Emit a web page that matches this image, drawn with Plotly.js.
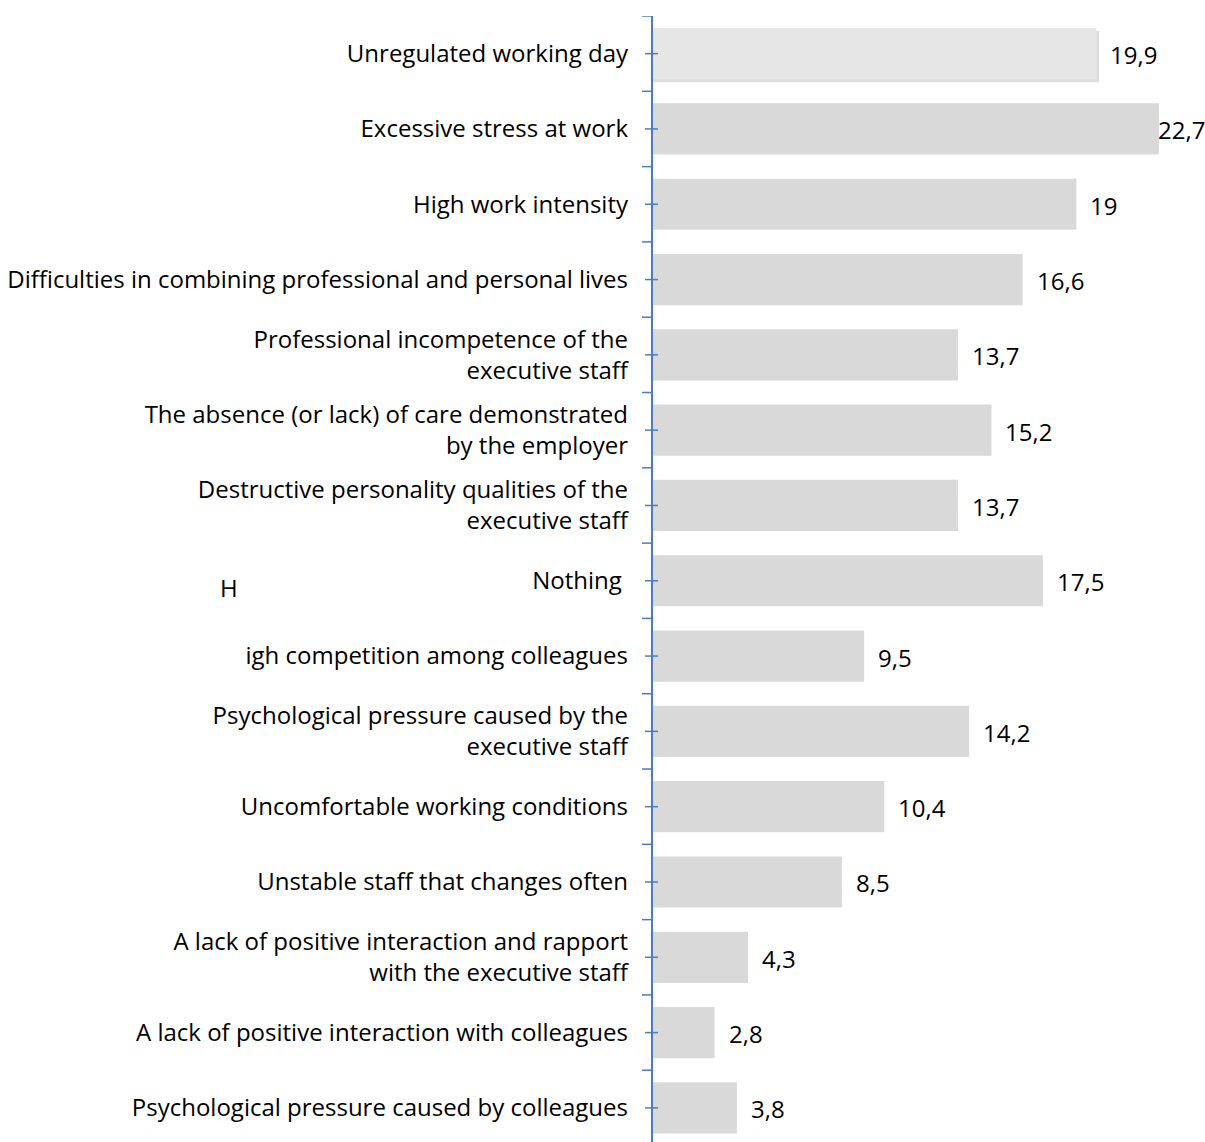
<!DOCTYPE html>
<html>
<head>
<meta charset="utf-8">
<script src="https://cdn.plot.ly/plotly-3.0.1.min.js"></script>
<style>html,body{margin:0;padding:0;background:#fff}#chart{width:1205px;height:1142px}</style>
</head>
<body>
<div id="chart"></div>
<script>
var categories = [
  "Unregulated working day",
  "Excessive stress at work",
  "High work intensity",
  "Difficulties in combining professional and personal lives",
  "Professional incompetence of the<br>executive staff",
  "The absence (or lack) of care demonstrated<br>by the employer",
  "Destructive personality qualities of the<br>executive staff",
  "Nothing\u00a0",
  "igh competition among colleagues",
  "Psychological pressure caused by the<br>executive staff",
  "Uncomfortable working conditions",
  "Unstable staff that changes often",
  "A lack of positive interaction and rapport<br>with the executive staff",
  "A lack of positive interaction with colleagues",
  "Psychological pressure caused by colleagues"
];
var values = [19.9, 22.7, 19, 16.6, 13.7, 15.2, 13.7, 17.5, 9.5, 14.2, 10.4, 8.5, 4.3, 2.8, 3.8];
var valueLabels = ["19,9", "22,7", "19", "16,6", "13,7", "15,2", "13,7", "17,5", "9,5", "14,2", "10,4", "8,5", "4,3", "2,8", "3,8"];

var FONT = "Open Sans, Noto Sans, sans-serif";
var AXIS = "#4a7cc0";
var barColors = values.map(function (v, i) { return i === 0 ? "#e6e6e6" : "#d9d9d9"; });
var maxV = Math.max.apply(null, values);
var n = categories.length;

var shadow = {
  type: "bar", orientation: "h",
  y: [categories[0]], x: [values[0] + 0.12],
  width: 0.68, offset: -0.30,
  marker: { color: "rgba(0,0,0,0.13)" },
  hoverinfo: "skip", showlegend: false
};
var bars = {
  type: "bar", orientation: "h",
  y: categories, x: values,
  width: 0.68,
  marker: { color: barColors },
  hoverinfo: "x+y", showlegend: false
};

var annotations = values.map(function (v, i) {
  return {
    x: v, y: categories[i], xref: "x", yref: "y",
    text: valueLabels[i], showarrow: false,
    xanchor: "left", yanchor: "middle",
    xshift: v === maxV ? -3 : 12, yshift: -1,
    font: { family: FONT, size: 24, color: "#000" }
  };
});
annotations.push({
  x: -0.725, xref: "paper", y: categories[7], yref: "y",
  text: "H", showarrow: false, xanchor: "center", yanchor: "middle",
  yshift: -7, font: { family: FONT, size: 24, color: "#000" }
});

var shapes = [];
// axis line at x = 0
shapes.push({
  type: "line", xref: "x", yref: "y", x0: 0, x1: 0, y0: -0.5, y1: n,
  line: { color: AXIS, width: 2 }
});
// boundary ticks (outside, to the left)
for (var b = 0; b <= n; b++) {
  shapes.push({
    type: "line", xref: "x", yref: "y",
    xsizemode: "pixel", xanchor: 0, x0: -10, x1: 0,
    y0: b - 0.5, y1: b - 0.5,
    line: { color: AXIS, width: 1.5 }
  });
}
// centre ticks (crossing the axis)
categories.forEach(function (c, i) {
  shapes.push({
    type: "line", xref: "x", yref: "y",
    xsizemode: "pixel", xanchor: 0, x0: -7, x1: 6,
    y0: i, y1: i,
    line: { color: AXIS, width: 1.5 }
  });
});

var layout = {
  width: 1205, height: 1142,
  margin: { l: 632, r: 17, t: 16, b: 0, pad: 0 },
  paper_bgcolor: "#fff", plot_bgcolor: "#fff",
  xaxis: {
    range: [-0.896, 24], showgrid: false, zeroline: false,
    showline: false, showticklabels: false, ticks: "", fixedrange: true
  },
  yaxis: {
    type: "category", range: [14.453, -0.5],
    showline: false, ticks: "",
    showgrid: false, zeroline: false,
    tickfont: { family: FONT, size: 24, color: "#000" },
    ticklabelstandoff: 3,
    fixedrange: true
  },
  annotations: annotations,
  shapes: shapes,
  barmode: "overlay",
  showlegend: false
};

Plotly.newPlot("chart", [shadow, bars], layout, { displayModeBar: false, staticPlot: true });
</script>
</body>
</html>
